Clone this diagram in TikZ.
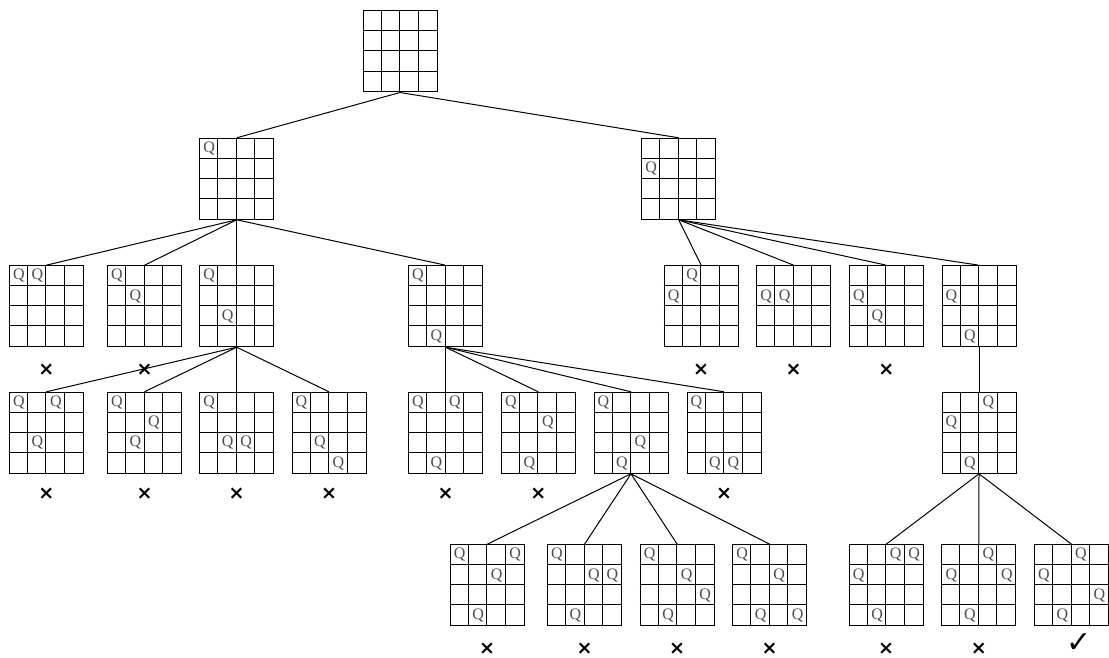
\documentclass[tikz,border=0pt]{standalone}
\usepackage{fontspec}
\setmainfont{Liberation Serif}
\newfontfamily\dvsans{DejaVu Sans}
\tikzset{
  board/.style={draw, line width=1pt, minimum width=74pt, minimum height=81pt, inner sep=0pt},
  gridline/.style={line width=1pt},
  queen/.style={inner sep=0pt, text=black!70, font=\fontsize{16}{16}\selectfont},
  link/.style={line width=1pt},
  fail/.style={inner sep=0pt, font=\dvsans\bfseries\fontsize{19}{19}\selectfont},
  ok/.style={inner sep=0pt, font=\dvsans\fontsize{30}{30}\selectfont},
}
\newcommand\qboard[3]{%
  \node[board] (#1) at (#2,#3) {};
  \foreach \k in {1,2,3} {
    \draw[gridline] ([xshift=\k*18.5pt]#1.north west) -- ([xshift=\k*18.5pt]#1.south west);
    \draw[gridline] ([yshift=-\k*20.25pt]#1.north west) -- ([yshift=-\k*20.25pt]#1.north east);
  }%
}
\newcommand\queens[2]{%
  \foreach \c/\r in {#2}
    \node[queen] at ([xshift=\c*18.5pt+10pt, yshift=-\r*20.25pt-10.6pt]#1.north west) {Q};%
}
\begin{document}
\begin{tikzpicture}[x=1pt,y=-1pt]
\useasboundingbox (0,0) rectangle (1109,658);
% root
\qboard{r}{400}{51.5}
% level 1
\qboard{a}{236.7}{178.8}\queens{a}{0/0}
\qboard{b}{678.7}{178.8}\queens{b}{0/1}
% level 2
\qboard{a1}{46.3}{306.2}\queens{a1}{0/0,1/0}
\qboard{a2}{144.5}{306.2}\queens{a2}{0/0,1/1}
\qboard{a3}{236.7}{306.2}\queens{a3}{0/0,1/2}
\qboard{a4}{445.5}{306.2}\queens{a4}{0/0,1/3}
\qboard{b1}{701.2}{306.2}\queens{b1}{1/0,0/1}
\qboard{b2}{793.7}{306.2}\queens{b2}{0/1,1/1}
\qboard{b3}{886.3}{306.2}\queens{b3}{0/1,1/2}
\qboard{b4}{979}{306.2}\queens{b4}{0/1,1/3}
% level 3
\qboard{c1}{46.3}{432.8}\queens{c1}{0/0,2/0,1/2}
\qboard{c2}{144.5}{432.8}\queens{c2}{0/0,2/1,1/2}
\qboard{c3}{236.7}{432.8}\queens{c3}{0/0,1/2,2/2}
\qboard{c4}{329}{432.8}\queens{c4}{0/0,1/2,2/3}
\qboard{c5}{445.5}{432.8}\queens{c5}{0/0,2/0,1/3}
\qboard{c6}{538.3}{432.8}\queens{c6}{0/0,2/1,1/3}
\qboard{c7}{631}{432.8}\queens{c7}{0/0,2/2,1/3}
\qboard{c8}{724}{432.8}\queens{c8}{0/0,1/3,2/3}
\qboard{c9}{979}{432.8}\queens{c9}{2/0,0/1,1/3}
% level 4
\qboard{d1}{487.2}{585.2}\queens{d1}{0/0,3/0,2/1,1/3}
\qboard{d2}{584.5}{585.2}\queens{d2}{0/0,2/1,3/1,1/3}
\qboard{d3}{677.2}{585.2}\queens{d3}{0/0,2/1,3/2,1/3}
\qboard{d4}{769.7}{585.2}\queens{d4}{0/0,2/1,1/3,3/3}
\qboard{d5}{886.2}{585.2}\queens{d5}{2/0,3/0,0/1,1/3}
\qboard{d6}{978.8}{585.2}\queens{d6}{2/0,0/1,3/1,1/3}
\qboard{d7}{1071.5}{585.2}\queens{d7}{2/0,0/1,3/2,1/3}
% connectors
\foreach \p/\q in {r/a,r/b,a/a1,a/a2,a/a3,a/a4,b/b1,b/b2,b/b3,b/b4,
  a3/c1,a3/c2,a3/c3,a3/c4,a4/c5,a4/c6,a4/c7,a4/c8,b4/c9,
  c7/d1,c7/d2,c7/d3,c7/d4,c9/d5,c9/d6,c9/d7}
  \draw[link] (\p.south) -- (\q.north);
% marks
\foreach \n in {a1,a2,b1,b2,b3}
  \node[fail] (m\n) at (\n.center |- 0,370) {×};
\foreach \n in {c1,c2,c3,c4,c5,c6,c8}
  \node[fail] (m\n) at (\n.center |- 0,494) {×};
\foreach \n in {d1,d2,d3,d4,d5,d6}
  \node[fail] (m\n) at (\n.center |- 0,649) {×};
\node[ok] (md7) at (1079,643) {✓};
\end{tikzpicture}
\end{document}
